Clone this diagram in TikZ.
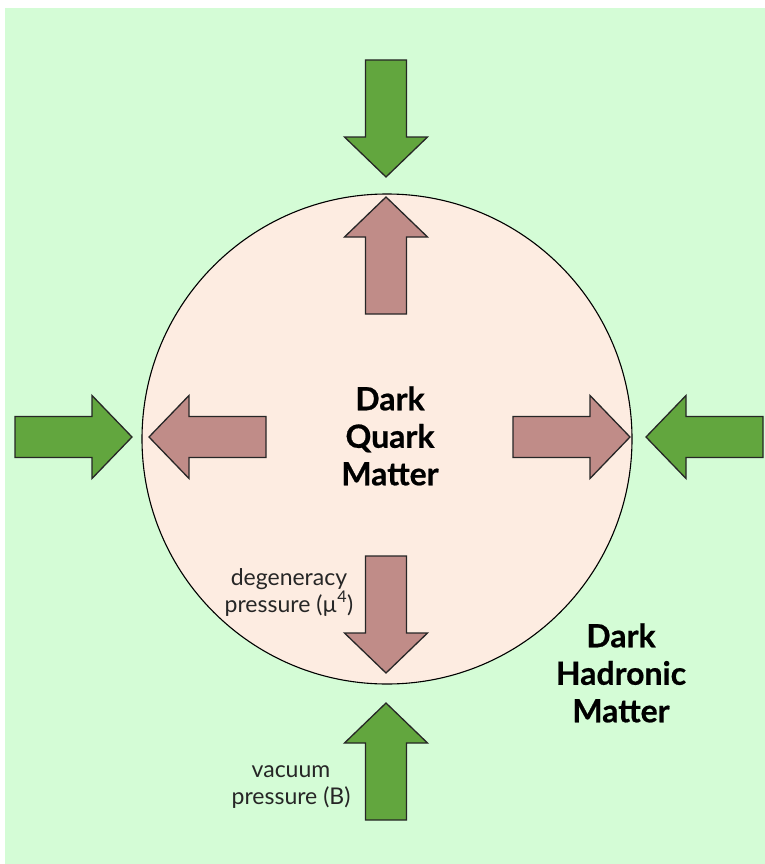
\documentclass[tikz,border=0pt]{standalone}
\usepackage{fontspec}
\setmainfont{Lato}[BoldFeatures={FakeBold=0.6}]
\usetikzlibrary{shadows}
\definecolor{bggreen}{HTML}{D4FCD6}
\definecolor{circfill}{HTML}{FDECE1}
\definecolor{pinkarrow}{HTML}{C08C88}
\definecolor{greenarrow}{HTML}{62A63E}
\definecolor{edge}{HTML}{262626}
\tikzset{
  barrow/.style={draw=edge, line width=1.3pt, line join=miter,
    drop shadow={opacity=0.3, shadow xshift=1.5pt, shadow yshift=-2pt}},
  greenA/.style={barrow, fill=greenarrow},
  pinkA/.style={barrow, fill=pinkarrow},
  arrR/.pic={\path[pic actions] (0,0) -- (-40,-41.5) -- (-40,-20.5) -- (-117,-20.5) -- (-117,20.5) -- (-40,20.5) -- (-40,41.5) -- cycle;},
  arrL/.pic={\path[pic actions] (0,0) -- (40,-41.5) -- (40,-20.5) -- (117,-20.5) -- (117,20.5) -- (40,20.5) -- (40,41.5) -- cycle;},
  arrD/.pic={\path[pic actions] (0,0) -- (-41.5,-40) -- (-20.5,-40) -- (-20.5,-117) -- (20.5,-117) -- (20.5,-40) -- (41.5,-40) -- cycle;},
  arrU/.pic={\path[pic actions] (0,0) -- (-41.5,40) -- (-20.5,40) -- (-20.5,117) -- (20.5,117) -- (20.5,40) -- (41.5,40) -- cycle;},
  bigtext/.style={align=center, text=black, font=\fontsize{32}{37.5}\selectfont\bfseries, inner sep=0pt},
  smalltext/.style={align=center, text=black!85, font=\fontsize{23}{27}\selectfont, inner sep=0pt}
}
\begin{document}
\begin{tikzpicture}[x=1pt,y=-1pt]
\useasboundingbox (0,0) rectangle (765,864);
\fill[bggreen] (5,8) rectangle (765,864);
\draw[fill=circfill, draw=black, line width=1.1pt] (387,439) circle[radius=245];
% green arrows (vacuum pressure)
\pic[greenA] at (386,177) {arrD};
\pic[greenA] at (132,437) {arrR};
\pic[greenA] at (646,437) {arrL};
\pic[greenA] at (386,703) {arrU};
% pink arrows (degeneracy pressure)
\pic[pinkA] at (386,197) {arrU};
\pic[pinkA] at (149,437) {arrL};
\pic[pinkA] at (630,437) {arrR};
\pic[pinkA] at (386,673) {arrD};
% labels
\node[bigtext] (dqm) at (390,436) {Dark\\Quark\\Matter};
\node[bigtext] (dhm) at (621,673) {Dark\\Hadronic\\Matter};
\node[smalltext] (deg) at (289,592) {degeneracy\\pressure (µ\textsuperscript{4})};
\node[smalltext] (vac) at (291,787) {vacuum\\pressure (B)};
\end{tikzpicture}
\end{document}
